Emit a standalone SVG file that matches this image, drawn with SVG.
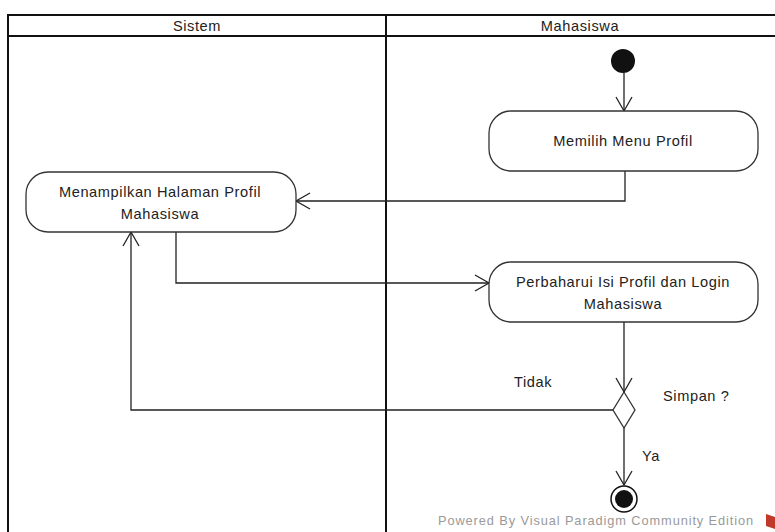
<svg xmlns="http://www.w3.org/2000/svg" width="775" height="532" viewBox="0 0 775 532">
<style>
.t{font-family:"Liberation Sans",Arial,sans-serif;font-size:14.6px;letter-spacing:0.6px;fill:#222;}
.c{text-anchor:middle;}
.node{fill:#fff;stroke:#333;stroke-width:1.3;}
.ln{fill:none;stroke:#222;stroke-width:1.3;}
.frame{fill:none;stroke:#111;stroke-width:2;}
.wm{font-family:"Liberation Sans",Arial,sans-serif;font-size:12.8px;letter-spacing:0.9px;fill:#9a9a9a;}
</style>
<defs>
<marker id="arr" markerWidth="18" markerHeight="20" refX="15" refY="10" orient="auto" markerUnits="userSpaceOnUse">
<path d="M1,2 L15,10 L1,18" fill="none" stroke="#222" stroke-width="1.3"/>
</marker>
</defs>
<rect width="775" height="532" fill="#fff"/>
<g id="lanes">
<rect class="frame" x="8" y="15" width="780" height="530"/>
<line class="frame" x1="8" y1="36" x2="775" y2="36"/>
<line class="frame" x1="386" y1="15" x2="386" y2="532"/>
<text class="t c" x="197" y="31">Sistem</text>
<text class="t c" x="580" y="31">Mahasiswa</text>
</g>
<g id="connectors">
<line class="ln" x1="624" y1="73" x2="624" y2="111" marker-end="url(#arr)"/>
<polyline class="ln" points="625,171 625,201 296,201" marker-end="url(#arr)"/>
<polyline class="ln" points="176,232 176,283 489,283" marker-end="url(#arr)"/>
<line class="ln" x1="624" y1="322" x2="624" y2="392" marker-end="url(#arr)"/>
<polyline class="ln" points="613,410 131,410 131,232" marker-end="url(#arr)"/>
<line class="ln" x1="624" y1="428" x2="624" y2="485" marker-end="url(#arr)"/>
<text class="t" x="514" y="387">Tidak</text>
<text class="t" x="642" y="461">Ya</text>
</g>
<g id="start">
<circle cx="623" cy="61" r="12" fill="#111"/>
</g>
<g id="memilih">
<rect class="node" x="489" y="111" width="269" height="60" rx="22"/>
<text class="t c" x="623" y="146">Memilih Menu Profil</text>
</g>
<g id="menampilkan">
<rect class="node" x="26" y="172" width="270" height="60" rx="22"/>
<text class="t c" x="160" y="197">Menampilkan Halaman Profil</text>
<text class="t c" x="160" y="219">Mahasiswa</text>
</g>
<g id="perbaharui">
<rect class="node" x="489" y="262" width="269" height="60" rx="22"/>
<text class="t c" x="623" y="287">Perbaharui Isi Profil dan Login</text>
<text class="t c" x="623" y="309">Mahasiswa</text>
</g>
<g id="decision">
<polygon class="node" points="624,392 635,410 624,428 613,410"/>
<text class="t" x="663" y="401">Simpan ?</text>
</g>
<g id="end">
<circle cx="624" cy="499" r="13" fill="#fff" stroke="#111" stroke-width="1.5"/>
<circle cx="624" cy="499" r="9" fill="#111"/>
</g>
<g id="watermark">
<text class="wm" x="438" y="525">Powered By  Visual Paradigm Community Edition</text>
<path d="M766,514 l9,3 v12 l-9,-3 z" fill="#c0392b"/>
</g>
</svg>
